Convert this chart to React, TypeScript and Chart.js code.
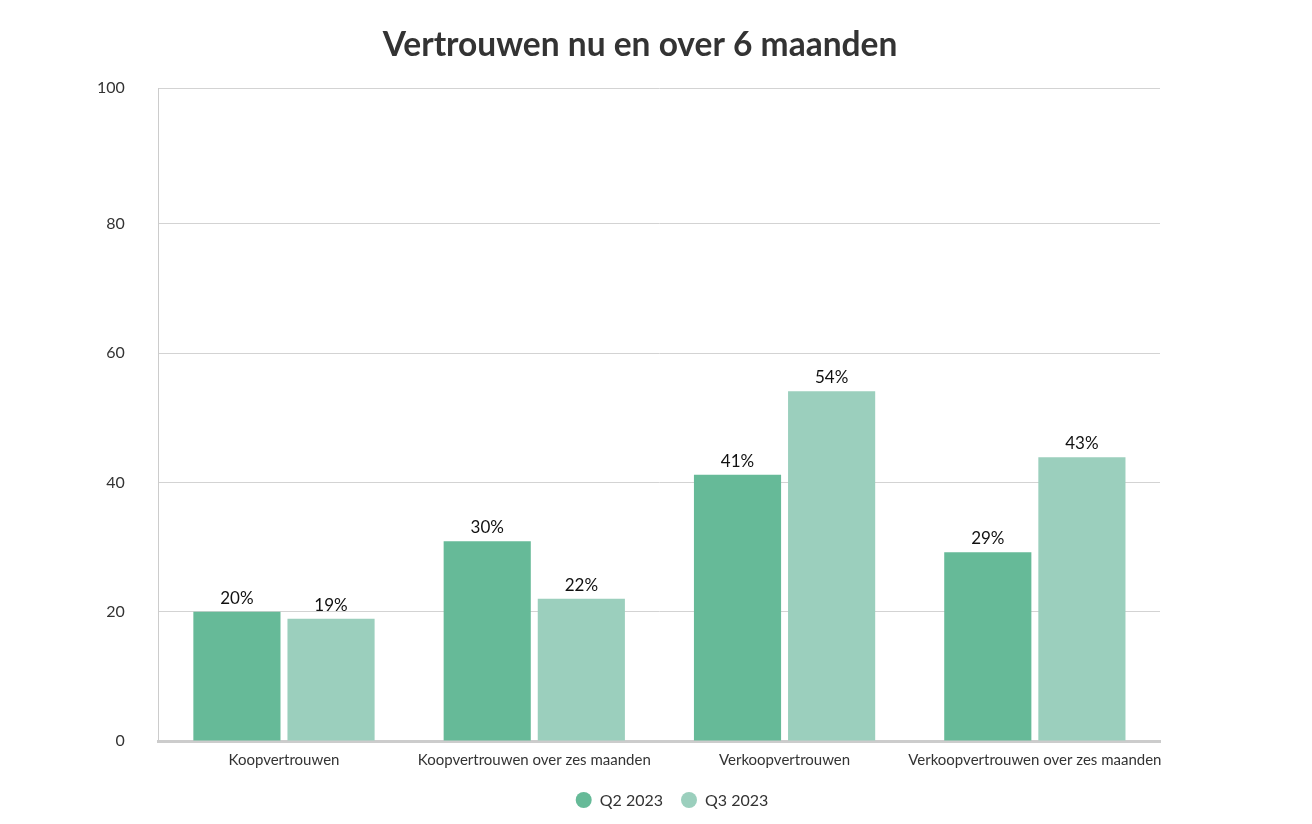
import React, { useEffect, useRef } from "react";
import { Chart, registerables } from "chart.js";

Chart.register(...registerables);

const titleText = "Vertrouwen nu en over 6 maanden";
const categories = [
  "Koopvertrouwen",
  "Koopvertrouwen over zes maanden",
  "Verkoopvertrouwen",
  "Verkoopvertrouwen over zes maanden",
];
const seriesNames = ["Q2 2023", "Q3 2023"];
const seriesColors = ["#66ba98", "#9bcfbd"];
const q2Values = [20.0, 30.9, 41.2, 29.2];
const q3Values = [18.9, 22.0, 54.1, 43.9];
const q2Labels = ["20%", "30%", "41%", "29%"];
const q3Labels = ["19%", "22%", "54%", "43%"];
const yTicks = [0, 20, 40, 60, 80];
const yMax = 101;
const yTopLabel = "100";

const FONT = "Lato, 'Open Sans', sans-serif";

const labelPlugin = {
  id: "barValueLabels",
  afterDatasetsDraw(chart: any) {
    const ctx = chart.ctx;
    const labelSets = [q2Labels, q3Labels];
    ctx.save();
    ctx.font = `17px ${FONT}`;
    ctx.fillStyle = "#111";
    ctx.textAlign = "center";
    ctx.textBaseline = "bottom";
    chart.data.datasets.forEach((_: any, di: number) => {
      const meta = chart.getDatasetMeta(di);
      meta.data.forEach((bar: any, i: number) => {
        ctx.fillText(labelSets[di][i], bar.x, bar.y - 5);
      });
    });
    ctx.restore();
  },
};

const titleLegendPlugin = {
  id: "titleAndLegend",
  afterDraw(chart: any) {
    const ctx = chart.ctx;
    ctx.save();
    // title
    ctx.font = `bold 33.5px ${FONT}`;
    ctx.fillStyle = "#333";
    ctx.textAlign = "center";
    ctx.textBaseline = "middle";
    ctx.fillText(titleText, 640, 45);
    // legend
    ctx.font = `16px ${FONT}`;
    const r = 8;
    const gapCircleText = 8;
    const gapItems = 18;
    const items = chart.data.datasets.map((ds: any) => ({
      label: ds.label,
      color: ds.backgroundColor,
      w: ctx.measureText(ds.label).width,
    }));
    const total =
      items.reduce((s: number, it: any) => s + 2 * r + gapCircleText + it.w, 0) +
      gapItems * (items.length - 1);
    let x = 672 - total / 2;
    const y = 800;
    ctx.textAlign = "left";
    items.forEach((it: any) => {
      ctx.beginPath();
      ctx.fillStyle = it.color;
      ctx.arc(x + r, y, r, 0, Math.PI * 2);
      ctx.fill();
      x += 2 * r + gapCircleText;
      ctx.fillStyle = "#333";
      ctx.fillText(it.label, x, y + 1);
      x += it.w + gapItems;
    });
    ctx.restore();
  },
};

export default function App() {
  const canvasRef = useRef<HTMLCanvasElement | null>(null);

  useEffect(() => {
    document.body.style.margin = "0";
    const canvas = canvasRef.current;
    if (!canvas) return;
    const chart = new Chart(canvas, {
      type: "bar",
      data: {
        labels: categories,
        datasets: [
          {
            label: seriesNames[0],
            data: q2Values,
            backgroundColor: seriesColors[0],
            categoryPercentage: 0.752,
            barPercentage: 0.926,
          },
          {
            label: seriesNames[1],
            data: q3Values,
            backgroundColor: seriesColors[1],
            categoryPercentage: 0.752,
            barPercentage: 0.926,
          },
        ],
      },
      options: {
        responsive: false,
        animation: false,
        layout: { padding: { left: 63, right: 152, top: 88, bottom: 53 } },
        plugins: {
          title: { display: false },
          legend: { display: false },
          tooltip: { enabled: false },
        },
        scales: {
          x: {
            grid: { display: false },
            border: { display: true, color: "#cccccc", width: 3 },
            ticks: {
              color: "#333",
              font: { family: FONT, size: 15 },
              padding: 2,
              maxRotation: 0,
              autoSkip: false,
            },
          },
          y: {
            min: 0,
            max: yMax,
            afterBuildTicks: (scale: any) => {
              scale.ticks = [...yTicks, yMax].map((v) => ({ value: v }));
            },
            grid: { color: "#d3d3d3", drawTicks: false },
            border: { display: true, color: "#cccccc", width: 1 },
            ticks: {
              color: "#333",
              font: { family: FONT, size: 16 },
              padding: 34,
              callback: (v: any) => (v === yMax ? yTopLabel : String(v)),
            },
          },
        },
      },
      plugins: [labelPlugin, titleLegendPlugin],
    });
    return () => chart.destroy();
  }, []);

  return (
    <div style={{ width: 1312, height: 824 }}>
      <canvas ref={canvasRef} width={1312} height={824} style={{ display: "block" }} />
    </div>
  );
}
